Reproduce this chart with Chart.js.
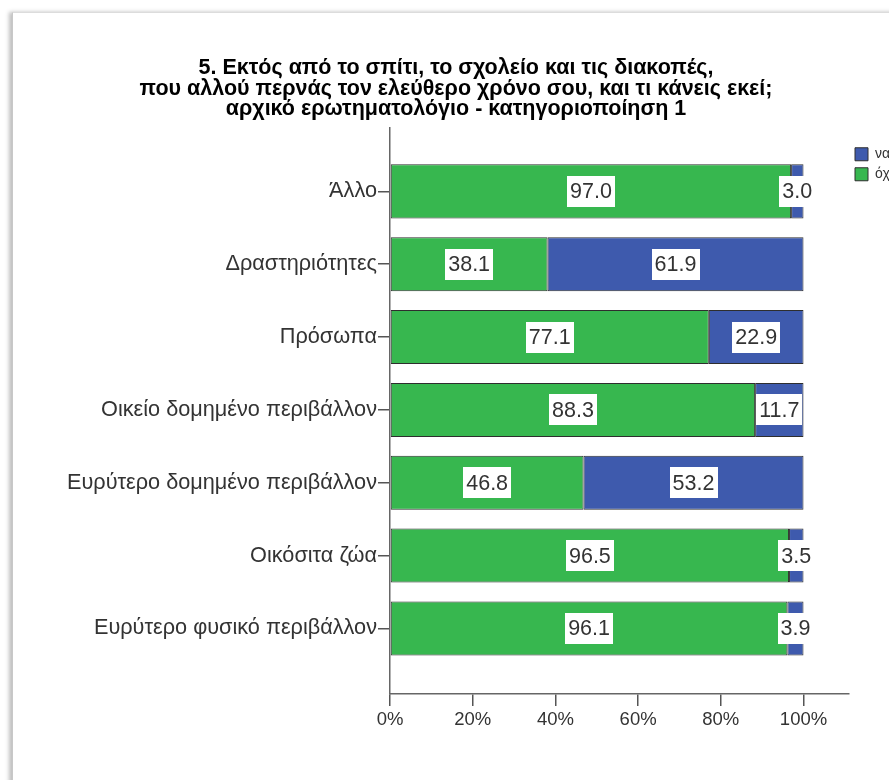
<!DOCTYPE html>
<html>
<head>
<meta charset="utf-8">
<script src="https://cdn.jsdelivr.net/npm/chart.js@4.4.1/dist/chart.umd.min.js"></script>
<style>
  html, body { margin: 0; padding: 0; background: #fff; overflow: hidden; }
  .frame {
    position: absolute; left: 12px; top: 12px;
    width: 886px; height: 780px;
    border-left: 1px solid #c8c8c8; border-top: 1px solid #dcdcdc;
    box-shadow: -3px 0 4px rgba(0, 0, 0, 0.25);
    background: #fff;
  }
  canvas { display: block; }
</style>
</head>
<body>
<div class="frame"><canvas id="chart" width="886" height="780"></canvas></div>
<script>
// Κατηγορίες (από πάνω προς τα κάτω) και ποσοστά ανά απάντηση
const categories = [
    'Άλλο',
    'Δραστηριότητες',
    'Πρόσωπα',
    'Οικείο δομημένο περιβάλλον',
    'Ευρύτερο δομημένο περιβάλλον',
    'Οικόσιτα ζώα',
    'Ευρύτερο φυσικό περιβάλλον'
];
const ochiValues = [97.0, 38.1, 77.1, 88.3, 46.8, 96.5, 96.1];
const naValues = [3.0, 61.9, 22.9, 11.7, 53.2, 3.5, 3.9];
const xTicks = [0, 20, 40, 60, 80, 100];
const titleLines = [
    '5. Εκτός από το σπίτι, το σχολείο και τις διακοπές,',
    'που αλλού περνάς τον ελεύθερο χρόνο σου, και τι κάνεις εκεί;',
    'αρχικό ερωτηματολόγιο - κατηγοριοποίηση 1'
];

const FONT = "'Liberation Sans', Arial, sans-serif";

// τιμές μέσα σε λευκό κουτάκι στο κέντρο κάθε τμήματος
const valueLabels = {
    id: 'valueLabels',
    afterDatasetsDraw(chart) {
        const ctx = chart.ctx;
        ctx.save();
        ctx.font = '21.5px ' + FONT;
        ctx.textAlign = 'center';
        ctx.textBaseline = 'middle';
        chart.data.datasets.forEach((ds, di) => {
            const meta = chart.getDatasetMeta(di);
            meta.data.forEach((bar, i) => {
                const text = ds.data[i].x.toFixed(1);
                const cx = (bar.x + bar.base) / 2;
                const w = ctx.measureText(text).width + 6;
                const h = 31;
                ctx.fillStyle = '#fff';
                ctx.fillRect(Math.round(cx - w / 2), Math.round(bar.y - h / 2), Math.round(w), h);
                ctx.fillStyle = '#333';
                ctx.fillText(text, cx, bar.y + 1);
            });
        });
        ctx.restore();
    }
};

new Chart(document.getElementById('chart'), {
    type: 'bar',
    data: {
        datasets: [
            {
                label: 'όχι',
                data: ochiValues.map((v, i) => ({ x: v, y: i })),
                backgroundColor: '#37b74f',
                borderColor: '#2e2e2e',
                borderWidth: 1,
                borderSkipped: false
            },
            {
                label: 'να',
                data: naValues.map((v, i) => ({ x: v, y: i })),
                backgroundColor: '#3e5aad',
                borderColor: '#2e2e2e',
                borderWidth: 1,
                borderSkipped: false
            }
        ]
    },
    options: {
        indexAxis: 'y',
        responsive: false,
        animation: false,
        layout: { padding: { left: 0, right: 0, top: 0, bottom: 49 } },
        datasets: { bar: { categoryPercentage: 1, barPercentage: 0.742 } },
        scales: {
            x: {
                type: 'linear',
                stacked: true,
                min: 0,
                max: 111,
                afterBuildTicks: s => { s.ticks = xTicks.map(v => ({ value: v })); },
                afterFit: s => { s.height = 50; },
                grid: { drawOnChartArea: false, tickLength: 12, color: '#555', lineWidth: 1.5 },
                border: { color: '#666', width: 1.5 },
                ticks: {
                    padding: 3,
                    color: '#333',
                    font: { family: FONT, size: 18.5 },
                    callback: v => v + '%'
                }
            },
            y: {
                type: 'linear',
                stacked: true,
                reverse: true,
                offset: false,
                min: -0.88,
                max: 6.9,
                afterBuildTicks: s => { s.ticks = categories.map((c, i) => ({ value: i })); },
                afterFit: s => { s.width = 377; },
                grid: { offset: false, drawOnChartArea: false, tickLength: 12, color: '#555', lineWidth: 1.5 },
                border: { color: '#666', width: 1.5 },
                ticks: {
                    padding: 1,
                    color: '#333',
                    font: { family: FONT, size: 21.7 },
                    callback: v => categories[v]
                }
            }
        },
        plugins: {
            title: {
                display: true,
                text: titleLines,
                color: '#000',
                font: { family: FONT, size: 21.5, weight: 'bold', lineHeight: 0.95 },
                padding: { top: 45, bottom: 8 }
            },
            legend: {
                position: 'right',
                align: 'start',
                fullSize: false,
                reverse: true,
                maxWidth: 50,
                title: { display: true, text: '', font: { size: 6, lineHeight: 1 }, padding: 4 },
                labels: {
                    boxWidth: 13,
                    boxHeight: 13,
                    padding: 6,
                    color: '#333',
                    font: { family: FONT, size: 14 }
                }
            },
            tooltip: { enabled: false }
        }
    },
    plugins: [valueLabels]
});
</script>
</body>
</html>
